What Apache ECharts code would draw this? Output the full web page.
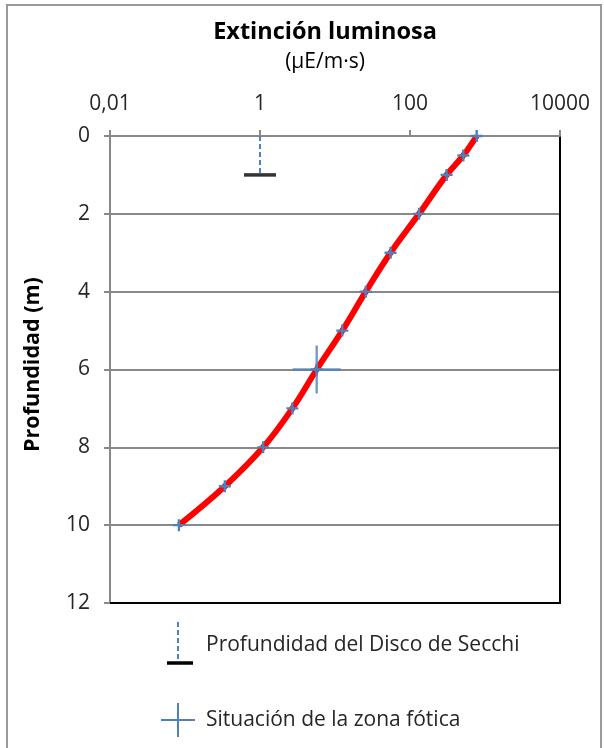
<!DOCTYPE html>
<html>
<head>
<meta charset="utf-8">
<title>Extinción luminosa</title>
<script src="https://cdn.jsdelivr.net/npm/echarts@6/dist/echarts.min.js"></script>
<style>
  html, body { margin: 0; padding: 0; background: #fff; }
  #chart { width: 604px; height: 748px; }
</style>
</head>
<body>
<div id="chart"></div>
<script>
// profundidad (m) y luz (µE/m·s)
const depths = [0, 0.5, 1, 2, 3, 4, 5, 6, 7, 8, 9, 10];
const light = [775, 514, 308, 132, 55, 25.7, 12.5, 5.7, 2.7, 1.1, 0.34, 0.083];

// disco de Secchi: linea desde la superficie hasta su profundidad
const secchiLight = [1, 1];
const secchiDepth = [0, 1];

// zona fotica
const photicLight = [5.7];
const photicDepth = [6];

const xTickLabels = ['0,01', '1', '100', '10000'];

const FONT = '"Open Sans", "Noto Sans", sans-serif';
const BLUE = '#4f81bd';
const GRAY = '#898989';

const smallPlus = 'path://M4.8,0H7.2V12H4.8Z M0,4.8H12V7.2H0Z';
const bigPlus = 'path://M22.8,0H25.2V48H22.8Z M0,22.8H48V25.2H0Z';

const chart = echarts.init(document.getElementById('chart'));

const option = {
  animation: false,
  title: {
    text: 'Extinción luminosa',
    subtext: '(µE/m·s)',
    left: 320,
    textAlign: 'center',
    top: 15,
    itemGap: 8,
    textStyle: { fontFamily: FONT, fontSize: 23.5, fontWeight: 'bold', color: '#000' },
    subtextStyle: { fontFamily: FONT, fontSize: 21, color: '#000' }
  },
  grid: { left: 110, right: 44, top: 136, bottom: 145 },
  xAxis: [
    {
      type: 'log',
      logBase: 100,
      min: 0.01,
      max: 10000,
      position: 'top',
      axisLine: { lineStyle: { color: GRAY, width: 2 } },
      axisTick: { show: true, length: 6, lineStyle: { color: GRAY, width: 2 } },
      minorTick: { show: false },
      splitLine: { show: false },
      axisLabel: {
        margin: 21,
        fontFamily: FONT,
        fontSize: 21,
        color: '#262626',
        formatter: (v, i) => xTickLabels[i]
      }
    },
    {
      type: 'value',
      min: 0,
      max: 1,
      position: 'bottom',
      axisLine: { show: true, lineStyle: { color: '#000', width: 2 } },
      axisTick: { show: false },
      axisLabel: { show: false },
      splitLine: { show: false }
    }
  ],
  yAxis: [
    {
      type: 'value',
      inverse: true,
      min: 0,
      max: 12,
      interval: 2,
      name: 'Profundidad (m)',
      nameLocation: 'middle',
      nameGap: 66,
      nameRotate: 90,
      nameTextStyle: {
        fontFamily: FONT,
        fontSize: 21.5,
        fontWeight: 'bold',
        color: '#000',
        padding: [0, 0, 0, 10]
      },
      axisLine: { show: true, lineStyle: { color: GRAY, width: 2 } },
      axisTick: { show: true, length: 6, lineStyle: { color: GRAY, width: 2 } },
      splitLine: { show: true, lineStyle: { color: GRAY, width: 2 } },
      axisLabel: { margin: 20, fontFamily: FONT, fontSize: 21, color: '#262626' }
    },
    {
      type: 'value',
      min: 0,
      max: 1,
      position: 'right',
      axisLine: { show: true, lineStyle: { color: '#000', width: 2 } },
      axisTick: { show: false },
      axisLabel: { show: false },
      splitLine: { show: false }
    }
  ],
  series: [
    {
      name: 'Profundidad del Disco de Secchi',
      type: 'line',
      data: secchiLight.map((v, i) => [v, secchiDepth[i]]),
      symbol: 'none',
      lineStyle: { color: BLUE, width: 2, type: [5, 3] },
      z: 3
    },
    {
      name: 'Secchi',
      type: 'scatter',
      data: [[secchiLight[1], secchiDepth[1]]],
      symbol: 'rect',
      symbolSize: [32, 3.5],
      itemStyle: { color: '#000' },
      z: 4
    },
    {
      name: 'Luz',
      type: 'line',
      smooth: 0.4,
      data: light.map((v, i) => [v, depths[i]]),
      symbol: smallPlus,
      symbolSize: 12,
      showAllSymbol: true,
      lineStyle: { color: '#ff0000', width: 6 },
      itemStyle: { color: BLUE },
      z: 5
    },
    {
      name: 'Situación de la zona fótica',
      type: 'scatter',
      data: photicLight.map((v, i) => [v, photicDepth[i]]),
      symbol: bigPlus,
      symbolSize: 48,
      itemStyle: { color: BLUE },
      z: 6
    }
  ],
  graphic: [
    {
      type: 'rect',
      shape: { x: 7, y: 5, width: 594, height: 780 },
      style: { fill: 'none', stroke: '#9a9a9a', lineWidth: 2 },
      silent: true
    },
    // leyenda
    {
      type: 'line',
      shape: { x1: 178, y1: 622, x2: 178, y2: 661 },
      style: { stroke: BLUE, lineWidth: 2, lineDash: [5, 3] }
    },
    {
      type: 'line',
      shape: { x1: 167, y1: 663, x2: 193, y2: 663 },
      style: { stroke: '#000', lineWidth: 3.5 }
    },
    {
      type: 'text',
      x: 206,
      y: 645,
      style: {
        text: 'Profundidad del Disco de Secchi',
        font: '21px ' + FONT,
        fill: '#262626',
        verticalAlign: 'middle'
      }
    },
    {
      type: 'line',
      shape: { x1: 161, y1: 720, x2: 195, y2: 720 },
      style: { stroke: BLUE, lineWidth: 2 }
    },
    {
      type: 'line',
      shape: { x1: 178, y1: 703, x2: 178, y2: 737 },
      style: { stroke: BLUE, lineWidth: 2 }
    },
    {
      type: 'text',
      x: 206,
      y: 720,
      style: {
        text: 'Situación de la zona fótica',
        font: '21px ' + FONT,
        fill: '#262626',
        verticalAlign: 'middle'
      }
    }
  ]
};

chart.setOption(option);
</script>
</body>
</html>
